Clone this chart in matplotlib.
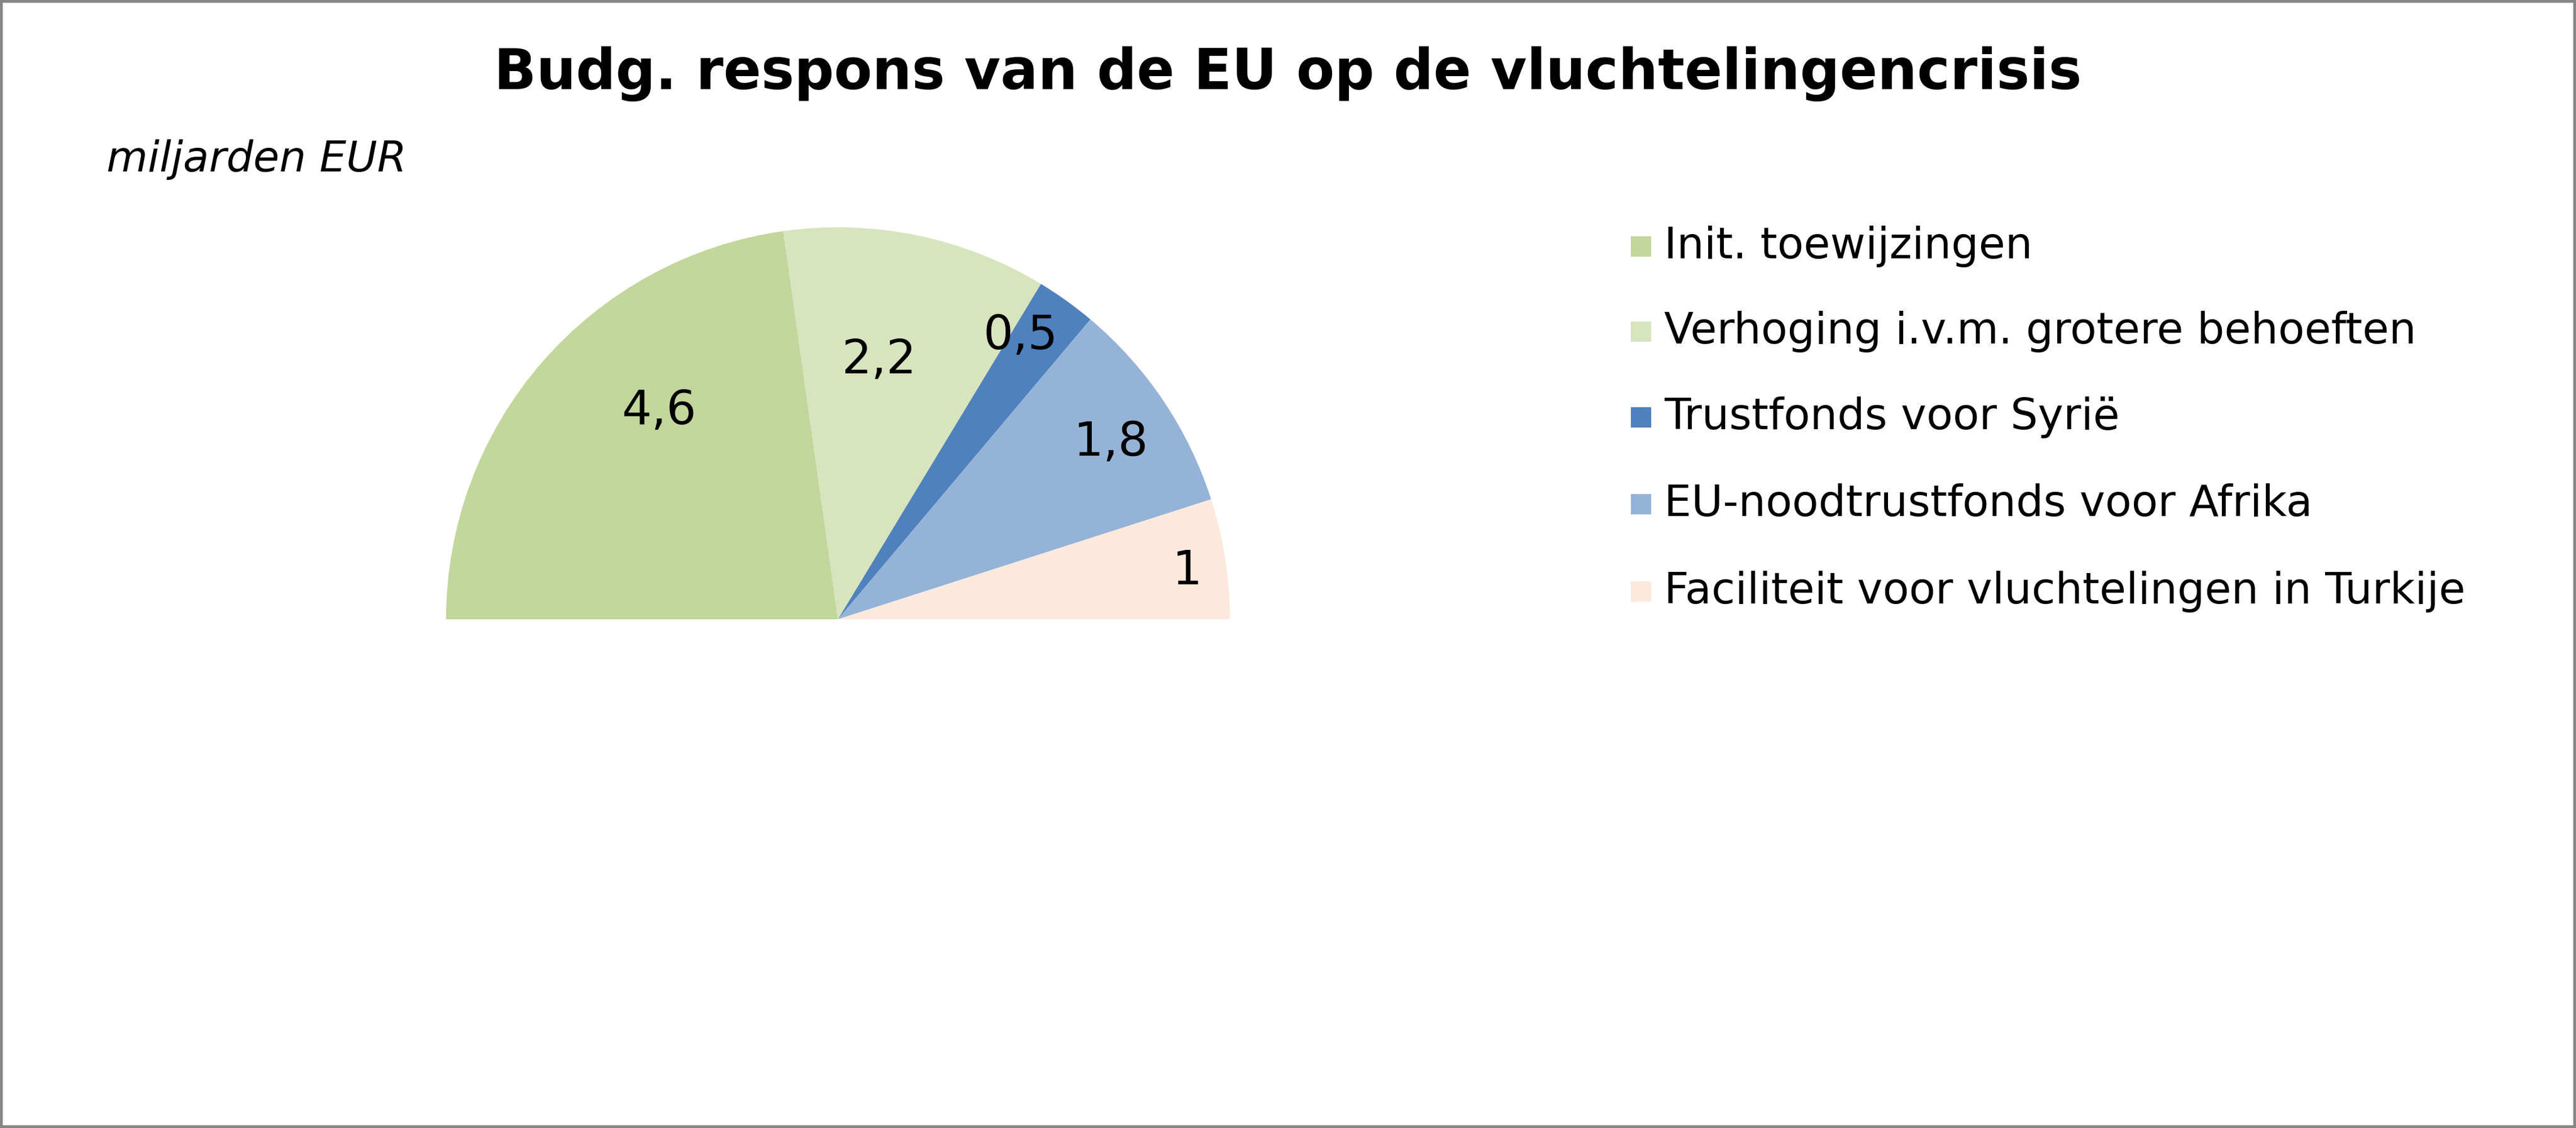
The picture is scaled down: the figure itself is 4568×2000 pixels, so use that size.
import matplotlib
matplotlib.use("Agg")
import matplotlib.pyplot as plt
from matplotlib.patches import Rectangle
import numpy as np

# data (miljarden EUR)
categories = ["Init. toewijzingen",
              "Verhoging i.v.m. grotere behoeften",
              "Trustfonds voor Syrië",
              "EU-noodtrustfonds voor Afrika",
              "Faciliteit voor vluchtelingen in Turkije"]
values = [4.6, 2.2, 0.5, 1.8, 1]
value_labels = ["4,6", "2,2", "0,5", "1,8", "1"]

colors = ["#C3D69B", "#D7E4BD", "#4F81BD", "#95B3D7", "#FCE9DB"]
# label placement inside each wedge: radial fraction and angle shift (deg)
label_dist = [0.70, 0.67, 0.86, 0.83, 0.90]
label_shift = [-8.4, 2.5, 2.9, -0.9, -1.1]

W, H = 4568, 2000
fig = plt.figure(figsize=(W / 100, H / 100), dpi=100)
fig.patch.set_facecolor("white")

# pie axes: centre at (1486, 1098) px from top, radius 695 px
cx, cy, r = 1486, 1098, 695
ax = fig.add_axes([(cx - r) / W, (H - cy - r) / H, 2 * r / W, 2 * r / H])

# half pie: an invisible wedge of the same size fills the lower half
wedges, _ = ax.pie(values + [sum(values)], colors=colors + ["white"],
                   startangle=180, counterclock=False, radius=1,
                   wedgeprops=dict(linewidth=0))
wedges[-1].set_visible(False)
ax.set_xlim(-1, 1)
ax.set_ylim(-1, 1)
ax.set_aspect("equal")
ax.axis("off")

for w, txt, d, s in zip(wedges[:-1], value_labels, label_dist, label_shift):
    ang = np.deg2rad((w.theta1 + w.theta2) / 2 + s)
    ax.text(d * np.cos(ang), d * np.sin(ang), txt, ha="center", va="center",
            fontsize=60, color="black")

# title and unit
fig.text(0.5, 1 - 131 / H, "Budg. respons van de EU op de vluchtelingencrisis",
         ha="center", va="center", fontsize=71, fontweight="bold")
fig.text(189 / W, 1 - 283 / H, "miljarden EUR", ha="left", va="center",
         fontsize=54, style="italic")

# legend
leg_y = [437, 588, 740, 894, 1049]
for name, col, y in zip(categories, colors, leg_y):
    fig.patches.append(Rectangle(((2910 - 18) / W, 1 - (y + 18) / H), 36 / W, 36 / H,
                                 transform=fig.transFigure, facecolor=col,
                                 edgecolor="none"))
    fig.text(2951 / W, 1 - y / H, name, ha="left", va="center", fontsize=55)

# outer frame
fig.patches.append(Rectangle((0, 0), 1, 1, transform=fig.transFigure,
                             facecolor="none", edgecolor="#868686", linewidth=7))

fig.savefig("out.png", dpi=100)
